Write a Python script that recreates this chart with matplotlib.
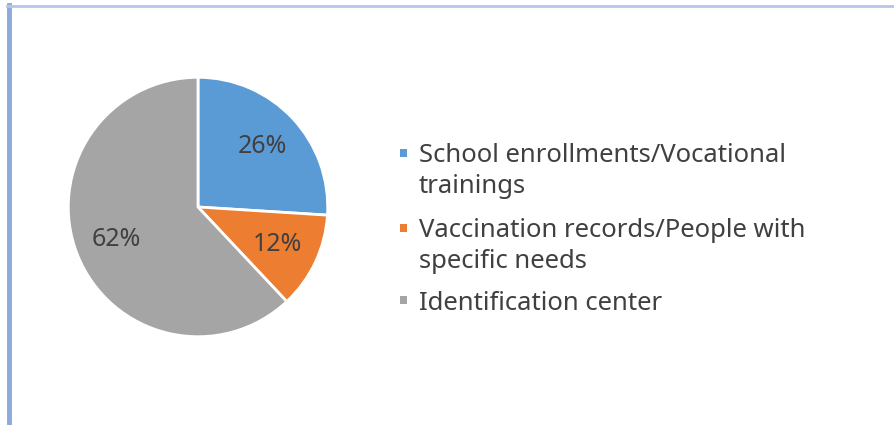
import matplotlib.pyplot as plt
from matplotlib.lines import Line2D
from matplotlib.patches import Rectangle

categories = ['School enrollments/Vocational\ntrainings',
              'Vaccination records/People with\nspecific needs',
              'Identification center']
shares = [26, 12, 62]
colors = ['#5b9bd5', '#ed7d31', '#a5a5a5']

W, H = 895, 425
fig = plt.figure(figsize=(W / 100, H / 100), dpi=100, facecolor='white')
txt_color = '#404040'
font = 'Noto Sans'

# pie centre ~ (198, 207) px, radius ~131 px
cx, cy, r = 198, 207, 131
ax = fig.add_axes([(cx - r) / W, (H - cy - r) / H, 2 * r / W, 2 * r / H])
wedges, texts, autotexts = ax.pie(
    shares, colors=colors, startangle=90, counterclock=False,
    autopct='%d%%', pctdistance=0.68,
    wedgeprops=dict(edgecolor='white', linewidth=2),
    textprops=dict(color=txt_color, fontsize=18, family=font))
ax.set_xlim(-1.01, 1.01)
ax.set_ylim(-1.01, 1.01)
ax.axis('off')

# legend, drawn by hand so the marker sits on the first line of each entry
entry_y = [152.5, 227.5, 300]
line_gap = 31
for label, col, yc in zip(categories, colors, entry_y):
    fig.add_artist(Rectangle(((400) / W, 1 - (yc + 4) / H), 7.5 / W, 8 / H,
                             facecolor=col, edgecolor='none',
                             transform=fig.transFigure))
    for i, line in enumerate(label.split('\n')):
        fig.text(419 / W, 1 - (yc + 9.5 + i * line_gap) / H, line,
                 va='baseline', ha='left', fontsize=18.5, family=font,
                 color=txt_color)

# frame border lines (left and top)
fig.add_artist(Line2D([8.5 / W, 8.5 / W], [0, 1 - 5 / H], color='#8eaadb', lw=3.5,
                      transform=fig.transFigure))
fig.add_artist(Line2D([7 / W, 1], [1 - 5.5 / H, 1 - 5.5 / H], color='#b4c6e7', lw=2,
                      transform=fig.transFigure))

fig.savefig('out.png', dpi=100, facecolor='white')
